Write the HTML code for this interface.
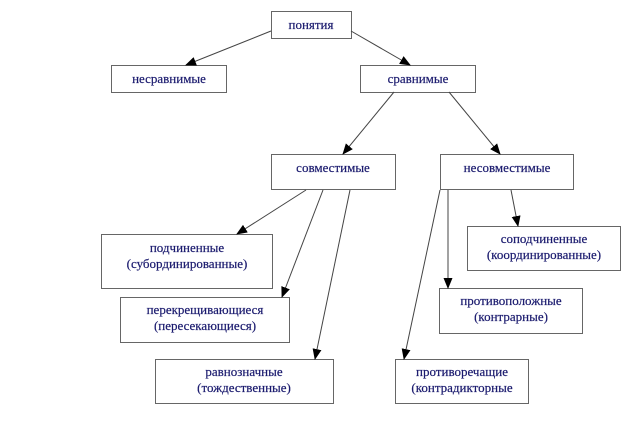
<!DOCTYPE html>
<html><head><meta charset="utf-8"><style>
html,body{margin:0;padding:0;background:#fff;width:639px;height:444px;overflow:hidden}
svg text{font-family:"Liberation Serif","DejaVu Serif",serif;font-size:13px;fill:#1a1a6e;text-anchor:middle;stroke:#1a1a6e;stroke-width:0.2}
</style></head><body>
<svg width="639" height="444" viewBox="0 0 639 444" xmlns="http://www.w3.org/2000/svg">
<defs><marker id="a" markerWidth="11" markerHeight="9" refX="10" refY="4.5" orient="auto" markerUnits="userSpaceOnUse"><path d="M0,0 L11,4.5 L0,9 z" fill="#000"/></marker></defs>
<g fill="#fff" stroke="#666" stroke-width="1">
<rect x="271.5" y="11.5" width="80" height="27"/>
<rect x="111.5" y="65.5" width="115" height="27"/>
<rect x="360.5" y="65.5" width="115" height="27"/>
<rect x="271.5" y="154.5" width="124" height="35"/>
<rect x="440.5" y="154.5" width="133" height="35"/>
<rect x="101.5" y="234.5" width="171" height="54"/>
<rect x="120.5" y="297.5" width="169" height="45"/>
<rect x="155.5" y="359.5" width="178" height="44"/>
<rect x="467.5" y="226.5" width="153" height="44"/>
<rect x="439.5" y="288.5" width="143" height="45"/>
<rect x="395.5" y="359.5" width="133" height="44"/>
</g>
<g stroke="#444" stroke-width="1" marker-end="url(#a)">
<line x1="271" y1="31" x2="186" y2="65"/>
<line x1="351" y1="31" x2="410" y2="65"/>
<line x1="394" y1="92" x2="343" y2="154"/>
<line x1="449" y1="92" x2="500" y2="154"/>
<line x1="306" y1="190" x2="237" y2="234"/>
<line x1="323" y1="190" x2="282" y2="297"/>
<line x1="350" y1="190" x2="315" y2="359"/>
<line x1="440" y1="190" x2="404" y2="359"/>
<line x1="448" y1="190" x2="448" y2="288"/>
<line x1="511" y1="190" x2="518" y2="226"/>
</g>
<text x="311" y="29">понятия</text>
<text x="169" y="83">несравнимые</text>
<text x="418" y="83">сравнимые</text>
<text x="333" y="172">совместимые</text>
<text x="507" y="172">несовместимые</text>
<text x="187" y="252">подчиненные</text>
<text x="187" y="268">(субординированные)</text>
<text x="205" y="314">перекрещивающиеся</text>
<text x="205" y="330">(пересекающиеся)</text>
<text x="244" y="376">равнозначные</text>
<text x="244" y="392">(тождественные)</text>
<text x="544" y="243">соподчиненные</text>
<text x="544" y="259">(координированные)</text>
<text x="511" y="305">противоположные</text>
<text x="511" y="321">(контрарные)</text>
<text x="462" y="376">противоречащие</text>
<text x="462" y="392">(контрадикторные</text>
</svg>
</body></html>
